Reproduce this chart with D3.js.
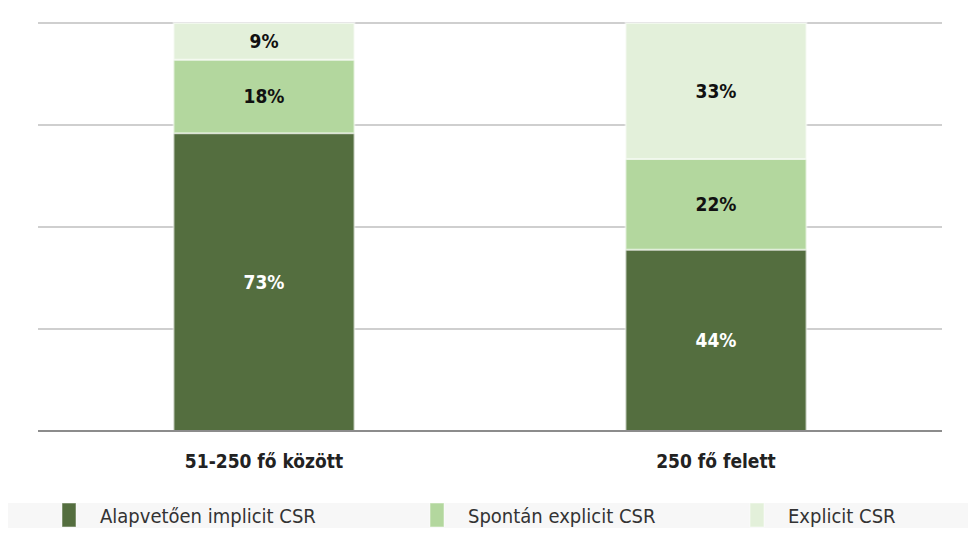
<!DOCTYPE html>
<html><head><meta charset="utf-8">
<script src="https://cdn.jsdelivr.net/npm/d3@7"></script>
<style>body{margin:0;background:#fff}svg{display:block}text{font-family:"DejaVu Sans Condensed","DejaVu Sans",sans-serif}</style>
</head><body><svg id="chart" width="977" height="534"></svg>
<script>
const categories = ["51-250 fő között", "250 fő felett"];
const seriesNames = ["Alapvetően implicit CSR", "Spontán explicit CSR", "Explicit CSR"];
const implicitVals = [73, 44];
const spontanVals = [18, 22];
const explicitVals = [9, 33];
const colors = ["#546e3f", "#b3d79e", "#e3f0da"];
const labelColors = ["#fff", "#111", "#111"];

const svg = d3.select("#chart");
const series = [implicitVals, spontanVals, explicitVals];
const rows = categories.map((c, i) => {
    const tot = d3.sum(series, s => s[i]);
    const r = { cat: c };
    seriesNames.forEach((n, k) => { r[n] = series[k][i] / tot * 100; r["raw" + k] = series[k][i]; });
    return r;
});
const stacked = d3.stack().keys(seriesNames)(rows);

const x = d3.scaleBand().domain(categories).range([38, 942]).paddingInner(0.6).paddingOuter(0.3);
const y = d3.scaleLinear().domain([0, 100]).range([431, 23]);

// gridlines
svg.append("g").selectAll("line").data([25, 50, 75, 100]).join("line")
    .attr("x1", 38).attr("x2", 942).attr("y1", d => y(d)).attr("y2", d => y(d))
    .attr("stroke", "#bfbfbf").attr("stroke-width", 1.5);

stacked.forEach((layer, k) => {
    const g = svg.append("g");
    g.selectAll("rect").data(layer).join("rect")
        .attr("x", d => x(d.data.cat)).attr("width", x.bandwidth())
        .attr("y", d => y(d[1])).attr("height", d => y(d[0]) - y(d[1]))
        .attr("fill", colors[k]).attr("stroke", "#fff").attr("stroke-opacity", 0.5).attr("stroke-width", 2);
    g.selectAll("text").data(layer).join("text")
        .attr("x", d => x(d.data.cat) + x.bandwidth() / 2)
        .attr("y", d => (y(d[0]) + y(d[1])) / 2 + 7)
        .attr("text-anchor", "middle").attr("font-weight", "bold").attr("font-size", 19)
        .attr("fill", labelColors[k]).text(d => d.data["raw" + k] + "%");
});

// baseline
svg.append("line").attr("x1", 38).attr("x2", 942).attr("y1", 431).attr("y2", 431)
    .attr("stroke", "#8c8c8c").attr("stroke-width", 2);

const xAxis = svg.append("g").attr("transform", "translate(0,431)")
    .call(d3.axisBottom(x).tickSize(0).tickPadding(24));
xAxis.select(".domain").remove();
xAxis.selectAll("text").attr("font-size", 19).attr("font-weight", "bold").attr("fill", "#222")
    .style("font-family", '"DejaVu Sans Condensed","DejaVu Sans",sans-serif');

// legend
svg.append("rect").attr("x", 8).attr("y", 503).attr("width", 960).attr("height", 25).attr("fill", "#f7f7f7");
const legX = [62, 430, 750];
seriesNames.forEach((n, k) => {
    svg.append("rect").attr("x", legX[k]).attr("y", 503).attr("width", 14).attr("height", 24)
        .attr("fill", colors[k]).attr("stroke", "#fff").attr("stroke-opacity", 0.5);
    svg.append("text").attr("x", legX[k] + 38).attr("y", 523).attr("font-size", 20).attr("fill", "#333").text(n);
});
</script></body></html>
